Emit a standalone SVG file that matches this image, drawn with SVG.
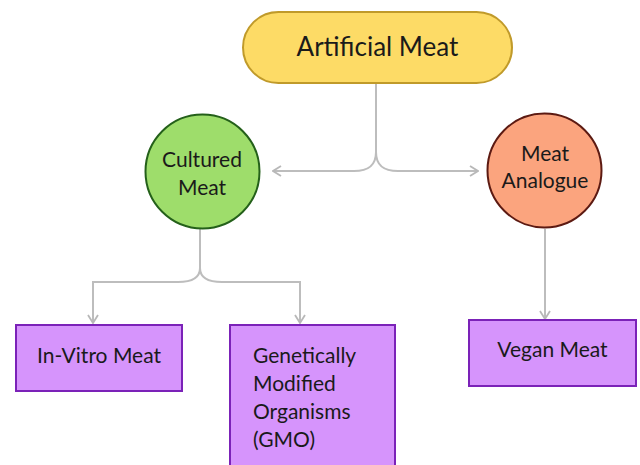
<svg xmlns="http://www.w3.org/2000/svg" width="640" height="465" viewBox="0 0 640 465">
<defs>
<marker id="arr" viewBox="0 0 12 12" refX="11" refY="6" markerWidth="12" markerHeight="12" markerUnits="userSpaceOnUse" orient="auto">
<path d="M3,1 L11,6 L3,11" fill="none" stroke="#b8b8b8" stroke-width="1.8"/>
</marker>
<style>
.t{font-family:Lato,"Open Sans","Liberation Sans",sans-serif;fill:#1a1a1a;font-size:21px}
.c{fill:none;stroke:#bdbdbd;stroke-width:2}
.box{fill:#d694fc;stroke:#7b22b8;stroke-width:2}
</style>
</defs>
<rect width="640" height="465" fill="#ffffff"/>
<g id="connectors">
<path class="c" d="M376,84 V152 C376,166 368,171 354,171 H273" marker-end="url(#arr)"/>
<path class="c" d="M376,152 C376,166 384,171 398,171 H478" marker-end="url(#arr)"/>
<path class="c" d="M200,229 V268 C200,278 192,282 178,282 H93 V323" marker-end="url(#arr)"/>
<path class="c" d="M200,268 C200,278 208,282 222,282 H300 V323" marker-end="url(#arr)"/>
<path class="c" d="M545,229 V319" marker-end="url(#arr)"/>
</g>
<g id="artificial-meat">
<rect x="243" y="12" width="269" height="71" rx="35.5" fill="#fddb66" stroke="#c09a2a" stroke-width="2"/>
<text class="t" x="377.5" y="56" style="font-size:26px" text-anchor="middle">Artificial Meat</text>
</g>
<g id="cultured-meat">
<circle cx="202.5" cy="171.5" r="57" fill="#9edd6b" stroke="#24601a" stroke-width="2"/>
<text class="t" x="202" y="167" text-anchor="middle">Cultured</text>
<text class="t" x="202" y="195" text-anchor="middle">Meat</text>
</g>
<g id="meat-analogue">
<circle cx="544.5" cy="170.5" r="57" fill="#fba47e" stroke="#5c1a12" stroke-width="2"/>
<text class="t" x="545" y="161" text-anchor="middle">Meat</text>
<text class="t" x="545" y="188" text-anchor="middle">Analogue</text>
</g>
<g id="in-vitro-meat">
<rect class="box" x="16" y="325" width="166" height="66"/>
<text class="t" x="99" y="363" text-anchor="middle">In-Vitro Meat</text>
</g>
<g id="gmo">
<rect class="box" x="230" y="325" width="165" height="150"/>
<text class="t" x="253" y="363">Genetically</text>
<text class="t" x="253" y="391">Modified</text>
<text class="t" x="253" y="419">Organisms</text>
<text class="t" x="253" y="447">(GMO)</text>
</g>
<g id="vegan-meat">
<rect class="box" x="469" y="320" width="167" height="66"/>
<text class="t" x="552.5" y="357" text-anchor="middle">Vegan Meat</text>
</g>
</svg>
